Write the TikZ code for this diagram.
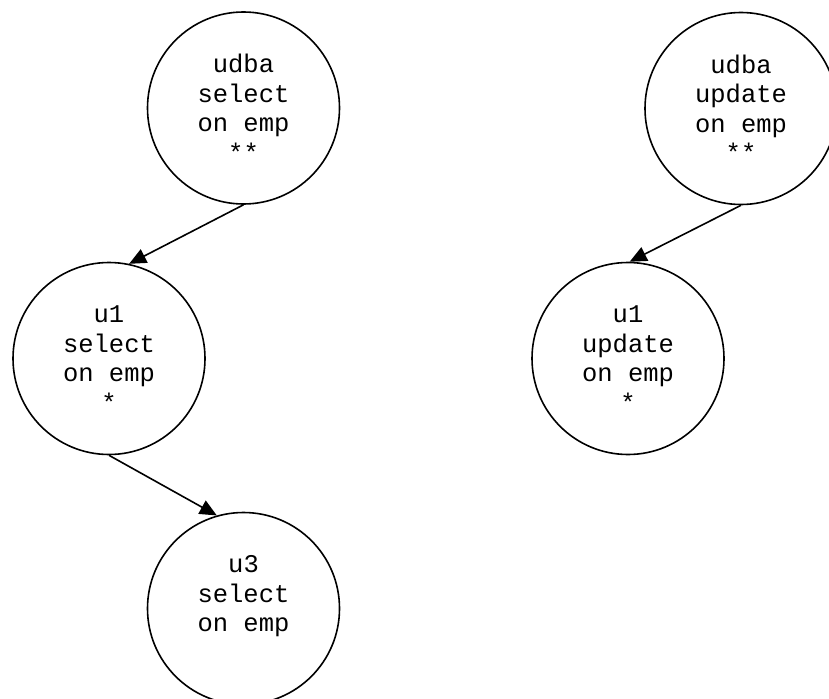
\documentclass[tikz,border=0pt]{standalone}
\usepackage{fontspec}
\setmonofont{Liberation Mono}
\usetikzlibrary{arrows.meta}
\tikzset{
  circ/.style={circle, draw, line width=1.6pt, minimum size=192pt, inner sep=0pt,
    align=center, font=\ttfamily\fontsize{25.5}{29.5}\selectfont},
  edge/.style={line width=1.6pt, -{Triangle[length=17pt,width=15pt]}}
}
\begin{document}
\begin{tikzpicture}[x=1pt,y=-1pt]
\useasboundingbox (0,0) rectangle (829,698);
\node[circ] (us) at (243.5,108) {udba\\select\\on emp\\**};
\node[circ] (uu) at (741,108.5) {udba\\update\\on emp\\**};
\node[circ] (ss) at (109,358.5) {u1\\select\\on emp\\*};
\node[circ] (su) at (628,358.5) {u1\\update\\on emp\\*};
\node[circ] (ts) at (243.5,608.5) {u3\\select\\on emp\\~};
\draw[edge] (us.south) -- (ss.78);
\draw[edge] (ss.south) -- (ts.106);
\draw[edge] (uu.south) -- (su.89);
\end{tikzpicture}
\end{document}
